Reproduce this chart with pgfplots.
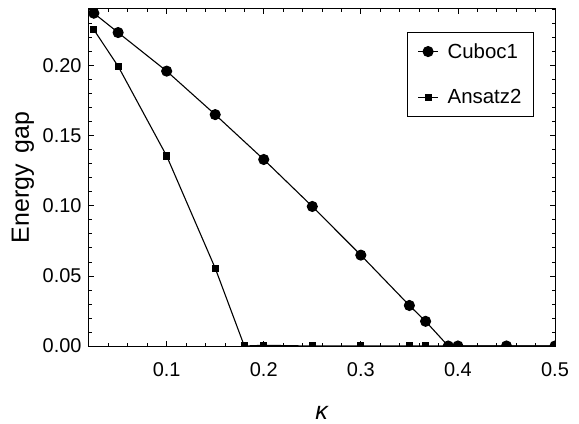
\documentclass[border=0pt]{standalone}
\usepackage{pgfplots}
\pgfplotsset{compat=1.18}
\usepackage{fontspec}
\setmainfont{Liberation Sans}
\setsansfont{Liberation Sans}

\begin{document}
\begin{tikzpicture}
\begin{axis}[
  scale only axis, width=466bp, height=337bp,
  xmin=0.02, xmax=0.5, ymin=0, ymax=0.2403,
  xtick={0.1,0.2,0.3,0.4,0.5},
  ytick={0,0.05,0.1,0.15,0.2},
  minor xtick={0.04,0.06,0.08,0.12,0.14,0.16,0.18,0.22,0.24,0.26,0.28,0.32,0.34,0.36,0.38,0.42,0.44,0.46,0.48},
  minor ytick={0.01,0.02,0.03,0.04,0.06,0.07,0.08,0.09,0.11,0.12,0.13,0.14,0.16,0.17,0.18,0.19,0.21,0.22,0.23,0.24},
  tick align=inside, major tick length=5bp, minor tick length=3bp,
  tick style={black, line width=0.7bp},
  axis line style={line width=1bp},
  xticklabel style={/pgf/number format/fixed, /pgf/number format/precision=1, yshift=-13bp},
  yticklabel style={/pgf/number format/fixed, /pgf/number format/fixed zerofill, /pgf/number format/precision=2, xshift=-4bp},
  /pgf/number format/assume math mode=true,
  ticklabel style={font=\fontsize{20}{22}\selectfont},
  xlabel={\textit{κ}}, ylabel={Energy\ \,gap},
  label style={font=\fontsize{25}{28}\selectfont},
  xlabel style={at={(axis description cs:0.5,-0.199)}, anchor=center},
  ylabel style={at={(axis description cs:-0.1416,0.5)}, anchor=center},
  clip marker paths=true,
  legend style={at={(0.6825,0.932)}, anchor=north west, draw=black, line width=1bp,
    font=\fontsize{20.5}{22}\selectfont, row sep=26bp, column sep=7bp,
    inner xsep=10bp, inner ysep=9bp},
  legend cell align=left,
  legend image code/.code={\draw[mark repeat=2,mark phase=2] plot coordinates {(0bp,0bp)(10bp,0bp)(20bp,0bp)};},
]
\addplot[black, line width=1.1bp, mark=*, mark size=5bp] coordinates {
  (0.025,0.2373)(0.05,0.2235)(0.1,0.196)(0.15,0.165)(0.2,0.133)(0.25,0.0995)
  (0.3,0.0648)(0.35,0.0289)(0.3667,0.0176)(0.39,0)(0.4,0)(0.45,0)(0.5,0)};
\addlegendentry{Cuboc1}
\addplot[black, line width=1.1bp, mark=square*, mark size=3bp] coordinates {
  (0.025,0.2255)(0.05,0.1995)(0.1,0.1355)(0.15,0.0555)(0.18,0)(0.2,0.0005)
  (0.25,0)(0.3,0)(0.35,0)(0.3667,0)(0.39,0)(0.4,0)(0.45,0)(0.5,0)};
\addlegendentry{Ansatz2}
\end{axis}
\path (-89bp,-78bp) rectangle (490bp,346bp);
\end{tikzpicture}
\end{document}
